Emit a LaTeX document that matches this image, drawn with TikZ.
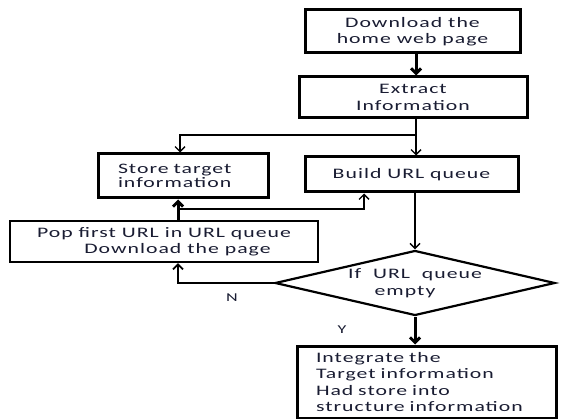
\documentclass[tikz,border=0pt]{standalone}
\usepackage{fontspec}
\setmainfont{Carlito}[FakeStretch=1.5, LetterSpace=7]
\usetikzlibrary{arrows.meta,shapes.geometric}
\definecolor{inkc}{RGB}{25,28,50}
\begin{document}
\begin{tikzpicture}[x=1pt,y=-1pt,
  txt/.style={font=\fontsize{14.5}{16.5}\selectfont, text=inkc},
  box/.style={draw=black, line width=3pt, inner sep=0pt, txt, align=center},
  tip/.style={-{Straight Barb[length=5pt,width=10pt]}},
  conn/.style={line width=1.4pt, tip},
  thickconn/.style={line width=3pt, tip},
  plain/.style={line width=1.4pt}
]
\useasboundingbox (0,0) rectangle (564,419);

\node[box, minimum width=215, minimum height=43] (b1) at (412.5,31.5) {Download the\\home web page};
\node[box, minimum width=228, minimum height=41] (b2) at (413,97.5) {Extract\\Information};
\node[box, minimum width=170, minimum height=44, inner xsep=20pt, text width=130pt, align=left,
      font=\fontsize{14.5}{14.5}\selectfont] (store) at (183,176) {Store target\\information};
\node[box, minimum width=213, minimum height=35] (build) at (411.5,174.5) {Build URL queue};
\node[box, line width=2.4pt, minimum width=308, minimum height=41, font=\fontsize{14.5}{15.5}\selectfont] (pop) at (164,241.5) {Pop first URL in URL queue\\\hspace*{27pt}Download the page};
\node[diamond, draw=black, line width=2.2pt, minimum width=280, minimum height=65, inner sep=0pt, aspect=4.3, txt, align=center] (dia) at (415,283) {If~~URL~~queue\\empty\hspace*{20pt}};
\node[box, minimum width=259, minimum height=72, inner xsep=19pt, text width=221pt, align=left] (final) at (426.5,382) {Integrate the\\Target information\\Had store into\\structure information};

\node[txt, font=\fontsize{12}{12}\selectfont] (nlab) at (232,298) {N};
\node[txt, font=\fontsize{12}{12}\selectfont] (ylab) at (342,330) {Y};

\coordinate (sp) at (416,135);
\coordinate (px) at (178,0);
\coordinate (hz) at (178,209);
\coordinate (bx) at (364,0);

\draw[thickconn] (b1.south -| sp) -- (sp |- b2.north);
\draw[plain] (b2.south -| sp) -- (sp);
\draw[conn] (sp) -| ([xshift=-3pt]store.north);
\draw[conn] (sp) -- (sp |- build.north);
\draw[conn] (dia.north |- build.south) -- (dia.north);
\draw[thickconn] (px |- pop.north) -- (px |- store.south);
\draw[conn] (hz) -| (bx |- build.south);
\draw[conn, line width=1.8pt] (dia.west) -| (px |- pop.south);
\draw[thickconn] (dia.south) -- (dia.south |- final.north);
\end{tikzpicture}
\end{document}
